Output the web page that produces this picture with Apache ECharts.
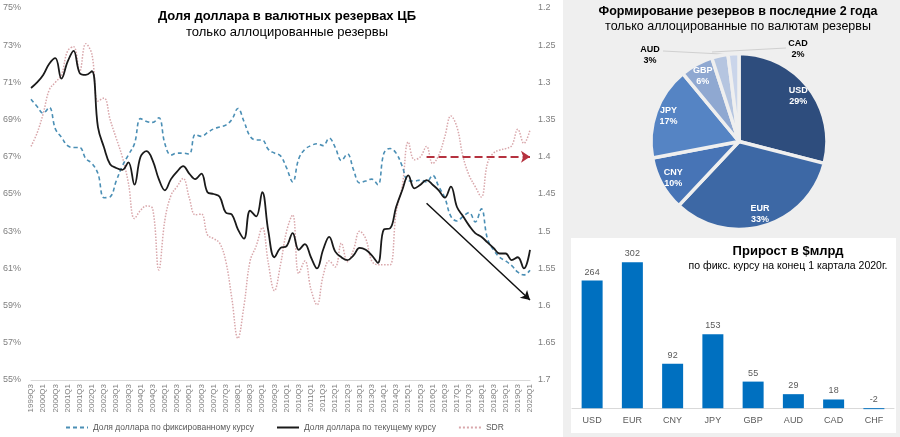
<!DOCTYPE html>
<html><head><meta charset="utf-8">
<script src="https://cdn.jsdelivr.net/npm/echarts@6/dist/echarts.min.js"></script>
<style>html,body{margin:0;padding:0;background:#fff}#c{width:900px;height:437px}</style>
</head><body><div id="c"></div>
<script>
const quarters = ['1999Q3','1999Q4',
'2000Q1','2000Q2','2000Q3','2000Q4','2001Q1','2001Q2','2001Q3','2001Q4',
'2002Q1','2002Q2','2002Q3','2002Q4','2003Q1','2003Q2','2003Q3','2003Q4',
'2004Q1','2004Q2','2004Q3','2004Q4','2005Q1','2005Q2','2005Q3','2005Q4',
'2006Q1','2006Q2','2006Q3','2006Q4','2007Q1','2007Q2','2007Q3','2007Q4',
'2008Q1','2008Q2','2008Q3','2008Q4','2009Q1','2009Q2','2009Q3','2009Q4',
'2010Q1','2010Q2','2010Q3','2010Q4','2011Q1','2011Q2','2011Q3','2011Q4',
'2012Q1','2012Q2','2012Q3','2012Q4','2013Q1','2013Q2','2013Q3','2013Q4',
'2014Q1','2014Q2','2014Q3','2014Q4','2015Q1','2015Q2','2015Q3','2015Q4',
'2016Q1','2016Q2','2016Q3','2016Q4','2017Q1','2017Q2','2017Q3','2017Q4',
'2018Q1','2018Q2','2018Q3','2018Q4','2019Q1','2019Q2','2019Q3','2019Q4',
'2020Q1'];

const fixedRateShare = [70.1,69.7,69.35,69.65,68.5,68.05,67.6,67.5,67.5,66.9,
66.65,66.1,64.8,64.85,65.7,66.5,67.1,67.7,69.05,68.9,
68.85,69.1,67.7,67.1,67.2,67.2,67.15,68.2,68.1,68.3,
68.5,68.6,68.7,69.0,69.6,68.9,68.1,67.9,67.9,67.4,
67.2,67.05,66.4,65.65,66.9,67.4,67.6,67.7,67.6,68.0,
67.5,66.8,67.15,66.3,65.6,65.7,65.8,65.5,67.2,67.45,
67.2,66.5,65.7,65.7,65.75,65.65,66.0,65.4,64.8,63.8,
63.55,63.8,64.0,63.5,64.2,62.6,62.0,61.6,61.4,61.15,
60.8,60.65,60.9];

const currentRateShare = [70.7,71.0,71.4,72.0,72.3,71.2,72.1,72.7,71.5,71.4,
71.6,68.6,67.5,66.6,66.4,66.3,66.7,65.5,67.0,67.3,
66.8,65.8,65.2,65.8,66.2,66.5,66.1,65.8,66.1,65.1,
65.0,64.85,64.0,63.9,63.1,62.6,64.1,63.8,65.1,63.0,
61.6,62.1,62.2,62.9,62.0,62.3,61.6,61.0,62.0,62.7,
61.9,61.6,61.45,61.7,62.1,62.0,61.7,61.3,63.1,63.15,
64.3,65.2,66.0,65.3,65.5,65.75,65.5,65.2,64.8,65.4,
64.3,63.8,63.3,62.9,62.7,62.4,62.1,61.8,61.8,61.45,
61.6,61.0,62.0];

const sdrRate = [1.386,1.368,1.342,1.310,1.300,1.290,1.258,1.252,1.285,1.248,
1.262,1.325,1.321,1.350,1.375,1.400,1.435,1.483,1.472,1.466,
1.470,1.552,1.485,1.452,1.440,1.429,1.455,1.478,1.477,1.505,
1.510,1.516,1.540,1.590,1.644,1.600,1.540,1.520,1.495,1.543,
1.580,1.545,1.500,1.478,1.557,1.540,1.578,1.599,1.560,1.540,
1.548,1.516,1.541,1.525,1.500,1.510,1.540,1.545,1.545,1.545,
1.475,1.440,1.380,1.404,1.400,1.386,1.409,1.398,1.373,1.345,
1.360,1.400,1.425,1.440,1.454,1.409,1.395,1.391,1.389,1.385,
1.363,1.382,1.364];

const seriesNames = ['Доля доллара по фиксированному курсу','Доля доллара по текущему курсу','SDR'];

// annotation arrows (data units)
const sdrLevelArrow = [['2015Q4', 1.4], ['2020Q1', 1.4]];
const trendArrow = [['2015Q4', 64.5], ['2020Q1', 59.3]];

const pieNames = ['USD','EUR','CNY','JPY','GBP','AUD','CAD'];
const pieShares = [29,33,10,17,6,3,2];
const pieColors = ['#2E4D7D','#3D68A5','#4774B6','#5584C4','#8FA8D1','#B5C5E0','#CAD5EA'];

const barNames = ['USD','EUR','CNY','JPY','GBP','AUD','CAD','CHF'];
const barValues = [264,302,92,153,55,29,18,-2];

const FONT = '"Liberation Sans", Arial, sans-serif';
const BG = '#efefef';

const chart = echarts.init(document.getElementById('c'), null, {renderer:'canvas'});

const outsideLabels = {AUD: {x:650, y:55, line:[[663,51],[741,55]]}, CAD: {x:798, y:49, line:[[712,52],[786,48]]}};

const option = {
  animation: false,
  textStyle: {fontFamily: FONT},
  graphic: [
    {type:'rect', shape:{x:563, y:0, width:337, height:437}, style:{fill:BG}, z:-10, silent:true},
    {type:'rect', shape:{x:571, y:238, width:325, height:195}, style:{fill:'#ffffff'}, z:-9, silent:true}
  ],
  title: [
    {text:'Доля доллара в валютных резервах ЦБ', left:287, top:10, textAlign:'center', padding:0,
     textStyle:{fontSize:13, fontWeight:'bold', color:'#000', fontFamily:FONT}},
    {text:'только аллоцированные резервы', left:287, top:25.5, textAlign:'center', padding:0,
     textStyle:{fontSize:13, fontWeight:'normal', color:'#000', fontFamily:FONT}},
    {text:'Формирование резервов в последние 2 года', left:738, top:5.5, textAlign:'center', padding:0,
     textStyle:{fontSize:12.5, fontWeight:'bold', color:'#000', fontFamily:FONT}},
    {text:'только аллоцированные по валютам резервы', left:738, top:20.5, textAlign:'center', padding:0,
     textStyle:{fontSize:12.5, fontWeight:'normal', color:'#000', fontFamily:FONT}},
    {text:'Прирост в $млрд', left:788, top:245, textAlign:'center', padding:0,
     textStyle:{fontSize:13, fontWeight:'bold', color:'#000', fontFamily:FONT}},
    {text:'по фикс. курсу на конец 1 картала 2020г.', left:788, top:260.5, textAlign:'center', padding:0,
     textStyle:{fontSize:10.5, fontWeight:'normal', color:'#000', fontFamily:FONT}}
  ],
  legend: {
    left: 65, top: 423, padding: 0, itemWidth: 22, itemHeight: 8, itemGap: 22,
    data: seriesNames,
    itemStyle: {opacity: 0},
    textStyle: {fontSize: 8.5, color: '#595959', fontFamily: FONT}
  },
  grid: [
    {left:30, top:8, width:500, height:372},
    {left:572, top:239, width:322, height:171.6}
  ],
  xAxis: [
    {type:'category', gridIndex:0, data: quarters, boundaryGap:false,
     axisLine:{lineStyle:{color:'#d9d9d9'}}, axisTick:{show:false},
     axisLabel:{rotate:90, interval:1, fontSize:8, color:'#7f7f7f', margin:4, fontFamily:FONT}},
    {type:'category', gridIndex:1, data: barNames,
     axisLine:{lineStyle:{color:'#d9d9d9'}}, axisTick:{show:false},
     axisLabel:{fontSize:9, color:'#595959', margin:5, fontFamily:FONT}}
  ],
  yAxis: [
    {type:'value', gridIndex:0, min:55, max:75, interval:2, position:'left',
     axisLine:{show:false}, axisTick:{show:false}, splitLine:{show:false},
     axisLabel:{formatter:'{value}%', fontSize:9, color:'#7f7f7f', margin:10, fontFamily:FONT}},
    {type:'value', gridIndex:0, min:1.2, max:1.7, interval:0.05, position:'right', inverse:true,
     axisLine:{show:false}, axisTick:{show:false}, splitLine:{show:false},
     axisLabel:{formatter: v => String(+v.toFixed(2)), fontSize:9, color:'#7f7f7f', margin:8, fontFamily:FONT}},
    {type:'value', gridIndex:1, min:-5, max:350, show:false, splitLine:{show:false}}
  ],
  series: [
    {name: seriesNames[2], type:'line', xAxisIndex:0, yAxisIndex:1, data: sdrRate, smooth:0.4,
     symbol:'none', z:2,
     lineStyle:{color:'#d9a7ab', width:1.5, type:'dotted'}, itemStyle:{color:'#d9a7ab'},
     markLine:{silent:true, symbol:['none','arrow'], symbolSize:[9,9],
       label:{show:false},
       lineStyle:{color:'#b5323f', width:2, type:'dashed'},
       data:[[{coord: sdrLevelArrow[0]}, {coord: sdrLevelArrow[1]}]]}},
    {name: seriesNames[0], type:'line', xAxisIndex:0, yAxisIndex:0, data: fixedRateShare, smooth:0.4,
     symbol:'none', z:3,
     lineStyle:{color:'#4b8fb5', width:1.6, type:[4,3]}, itemStyle:{color:'#4b8fb5'}},
    {name: seriesNames[1], type:'line', xAxisIndex:0, yAxisIndex:0, data: currentRateShare, smooth:0.4,
     symbol:'none', z:4,
     lineStyle:{color:'#1a1a1a', width:1.8}, itemStyle:{color:'#1a1a1a'},
     markLine:{silent:true, symbol:['none','arrow'], symbolSize:[8,9],
       label:{show:false},
       lineStyle:{color:'#111', width:1.5, type:'solid'},
       data:[[{coord: trendArrow[0]}, {coord: trendArrow[1]}]]}},
    {type:'pie', center:[739,141.5], radius:[0,88], startAngle:90, clockwise:true, silent:true,
     data: pieNames.map((n,i)=>({name:n, value:pieShares[i],
        label:{show: !!outsideLabels[n]}, labelLine:{show: !!outsideLabels[n]}})),
     itemStyle:{color: p => pieColors[p.dataIndex], borderColor:BG, borderWidth:3.5},
     label:{position:'outside', formatter: p => p.name + '\n' + p.value + '%',
       fontSize:9, fontWeight:'bold', color:'#000', lineHeight:11, fontFamily:FONT},
     labelLine:{lineStyle:{color:'#d0d0d0', width:1}},
     labelLayout: function(params){
       const o = outsideLabels[pieNames[params.dataIndex]];
       if (!o) return {};
       return {x:o.x, y:o.y, align:'center', verticalAlign:'middle', labelLinePoints:o.line};
     }},
    {type:'pie', center:[739,141.5], radius:[56,88], startAngle:90, clockwise:true, silent:true, z:5,
     data: pieNames.map((n,i)=>({name:n, value:pieShares[i], label:{show: !outsideLabels[n]}})),
     itemStyle:{color:'rgba(0,0,0,0)', borderWidth:0},
     label:{position:'inside', formatter: p => p.name + '\n' + p.value + '%',
       fontSize:9, fontWeight:'bold', color:'#fff', lineHeight:11, fontFamily:FONT},
     labelLine:{show:false}},
    {type:'bar', xAxisIndex:1, yAxisIndex:2, data: barValues, barWidth:21,
     itemStyle:{color:'#0070c0'},
     label:{show:true, position:'top', fontSize:9, color:'#595959', distance:4, fontFamily:FONT}}
  ]
};
chart.setOption(option);
</script>
</body></html>
